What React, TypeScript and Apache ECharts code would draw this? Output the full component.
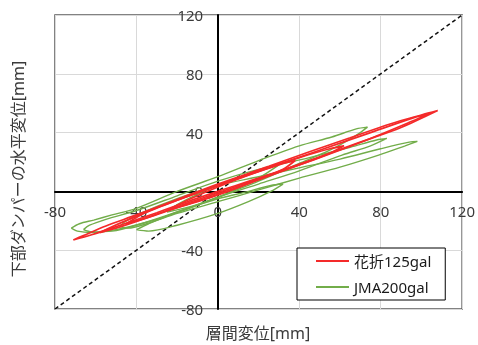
import React, { useEffect, useRef } from "react";
import * as echarts from "echarts";

// ---- data (mm) ----
const axisTicks = [-80, -40, 0, 40, 80, 120];
const seriesNames = ["花折125gal", "JMA200gal"];
const xTitle = "層間変位[mm]";
const yTitle = "下部ダンパーの水平変位[mm]";

const diagonal: number[][] = [[-80, -80], [120, 120]];

const redLoop1: number[][] = [
  [-71, -33], [-62, -29.5], [-48, -23], [-30, -14.5], [-15, -7], [0, 0], [20, 9], [45, 21], [70, 33.5], [90, 43.5], [108, 55],
  [100, 52], [85, 46], [65, 36.5], [45, 27], [25, 17], [0, 5], [-20, -5.5], [-40, -16], [-55, -23.5], [-66, -30], [-71, -33],
];
const redLoop2: number[][] = [
  [-58, -28], [-50, -25], [-35, -18], [-15, -8], [0, -1], [25, 11], [50, 23], [75, 36], [95, 47.5], [104, 53],
  [96, 50], [75, 40], [50, 28], [25, 16], [0, 4], [-20, -6], [-40, -17], [-52, -24], [-58, -28],
];
const redLoop3: number[][] = [
  [-45, -22], [-35, -18], [-20, -11], [0, -2], [20, 8], [40, 18], [55, 26], [62, 31],
  [55, 29], [40, 23], [20, 14], [0, 4], [-20, -6], [-35, -14], [-45, -22],
];
const redLoop4: number[][] = [
  [-25, -13], [-10, -7], [5, 0], [20, 8], [32, 15], [38, 21],
  [30, 18], [15, 11], [0, 3], [-15, -6], [-25, -13],
];

const greenLoop1: number[][] = [
  [-72, -25], [-69, -27], [-62, -28], [-50, -26], [-35, -21], [-15, -12], [0, -4], [20, 7], [40, 19], [55, 28], [63, 34], [70, 40], [73.5, 43.7],
  [68, 42.5], [56, 37], [40, 31], [20, 21], [0, 10], [-20, 0], [-40, -11.5], [-52, -16], [-61, -19.5], [-68, -22], [-72, -25],
];
const greenLoop2: number[][] = [
  [-66, -26], [-62, -27.5], [-52, -27], [-40, -23], [-20, -14], [0, -4], [20, 5], [40, 14], [61, 24.7], [75, 31], [83, 36],
  [78, 35], [65, 30], [45, 23], [20, 15], [0, 7], [-20, -3], [-40, -13], [-55, -19], [-63, -23], [-66, -26],
];
const greenLoop3: number[][] = [
  [-48, -24], [-44, -25], [-35, -22], [-20, -15], [0, -7], [20, 1], [40, 9], [60, 16.5], [79, 24.7], [92, 31], [98, 34],
  [94, 33.5], [80, 29], [60, 22], [40, 16], [20, 10], [0, 4], [-20, -5], [-38, -15], [-46, -21], [-48, -24],
];
const greenLoop4: number[][] = [
  [-40, -26], [-34, -27], [-20, -23], [0, -15], [15, -7], [26, 0], [32, 5],
  [26, 4], [12, -1], [0, -5], [-20, -14], [-34, -22], [-40, -26],
];
const greenLoop5: number[][] = [
  [-25, -14], [-10, -9], [5, -1], [20, 9], [30, 18],
  [20, 14], [5, 7], [-10, -2], [-20, -9], [-25, -14],
];

const redLoops = [redLoop1, redLoop2, redLoop3, redLoop4];
const greenLoops = [greenLoop1, greenLoop2, greenLoop3, greenLoop4, greenLoop5];

const RED = "#F42A2A";
const GREEN = "#72AD4A";
const FONT = '"Noto Sans", "Noto Sans CJK JP", sans-serif';
const TEXT = "#3a3a3a";

const GRID = { left: 55, right: 15, top: 15, bottom: 36 };
const W = 478;
const H = 345;

export default function App() {
  const ref = useRef<HTMLDivElement>(null);
  useEffect(() => {
    if (!ref.current) return;
    const chart = echarts.init(ref.current, undefined, { renderer: "svg" });
    const lo = axisTicks[0];
    const hi = axisTicks[axisTicks.length - 1];
    const gw = W - GRID.left - GRID.right;
    const gh = H - GRID.top - GRID.bottom;
    const xZeroOffset = -(gw * (0 - lo)) / (hi - lo);
    const yZeroOffset = -(gh * (0 - lo)) / (hi - lo);
    const loopSeries = (loops: number[][][], name: string, color: string, width: number) =>
      loops.map((d) => ({
        type: "line",
        name,
        data: d,
        color,
        showSymbol: false,
        symbol: "none",
        smooth: 0.3,
        lineStyle: { color, width },
      }));
    const axisCommon = {
      type: "value",
      min: lo,
      max: hi,
      interval: 40,
      axisLine: { show: true, onZero: false, lineStyle: { color: "#000", width: 2 } },
      axisTick: { show: false },
      splitLine: { show: true, lineStyle: { color: "#D9D9D9", width: 1 } },
    };
    chart.setOption({
      animation: false,
      grid: {
        ...GRID,
        show: true, borderColor: "#595959", borderWidth: 1.5, backgroundColor: "transparent",
      },
      xAxis: {
        ...axisCommon,
        position: "bottom",
        offset: yZeroOffset,
        axisLabel: { fontSize: 15, color: TEXT, fontFamily: FONT, margin: 12 },
      },
      yAxis: {
        ...axisCommon,
        position: "left",
        offset: xZeroOffset,
        axisLabel: { fontSize: 15, color: TEXT, fontFamily: FONT, margin: 15 },
      },
      legend: {
        data: seriesNames,
        orient: "vertical",
        left: 297,
        top: 248,
        padding: [4, 14, 4, 19],
        itemGap: 8,
        itemWidth: 33,
        itemHeight: 2,
        icon: "rect",
        borderColor: "#000",
        borderWidth: 1,
        backgroundColor: "#fff",
        textStyle: { fontSize: 15, color: "#1a1a1a", fontFamily: FONT, lineHeight: 18 },
      },
      graphic: [
        {
          type: "text",
          x: 18,
          y: 169,
          rotation: Math.PI / 2,
          style: {
            text: yTitle, fontSize: 16, fill: TEXT, fontFamily: FONT,
            textAlign: "center", textVerticalAlign: "middle",
          },
        },
        {
          type: "text",
          x: 258,
          y: 333,
          style: {
            text: xTitle, fontSize: 16, fill: TEXT, fontFamily: FONT,
            textAlign: "center", textVerticalAlign: "middle",
          },
        },
      ],
      series: [
        {
          type: "line",
          name: "y=x",
          data: diagonal,
          showSymbol: false,
          symbol: "none",
          color: "#000",
          lineStyle: { color: "#111", width: 1.5, type: [4, 3] },
        },
        ...loopSeries(greenLoops, seriesNames[1], GREEN, 1.4),
        ...loopSeries(redLoops, seriesNames[0], RED, 1.7),
      ],
    });
    return () => chart.dispose();
  }, []);
  return <div ref={ref} style={{ position: "fixed", left: 0, top: 0, width: W, height: H }} />;
}
